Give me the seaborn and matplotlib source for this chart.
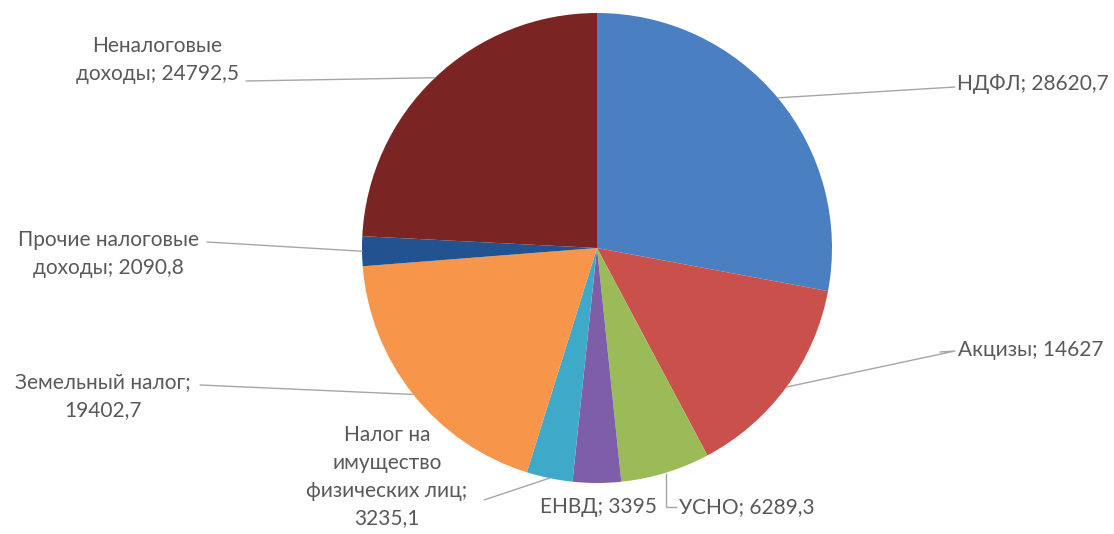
import numpy as np
import matplotlib
matplotlib.use("Agg")
import matplotlib.pyplot as plt
import seaborn as sns

# ---- data ----
categories = ["НДФЛ", "Акцизы", "УСНО", "ЕНВД", "Налог на имущество физических лиц",
              "Земельный налог", "Прочие налоговые доходы", "Неналоговые доходы"]
values = [28620.7, 14627.0, 6289.3, 3395.0, 3235.1, 19402.7, 2090.8, 24792.5]
label_texts = ["НДФЛ; 28620,7", "Акцизы; 14627", "УСНО; 6289,3", "ЕНВД; 3395",
               "Налог на\nимущество\nфизических лиц;\n3235,1",
               "Земельный налог;\n19402,7", "Прочие налоговые\nдоходы; 2090,8",
               "Неналоговые\nдоходы; 24792,5"]
colors = ["#4A7FC1", "#C9504B", "#9BBB59", "#7E5EA8", "#3FA9C9",
          "#F7954A", "#22528F", "#7A2523"]

sns.set_theme(style="white")
plt.rcParams["font.family"] = ["Lato", "DejaVu Sans"]

W, H = 1114, 534
fig = plt.figure(figsize=(W / 100, H / 100), dpi=100)
ax = fig.add_axes([0, 0, 1, 1])

cx, cy, R = 597, H - 248, 235
palette = sns.color_palette(colors)
wedges, _ = ax.pie(values, colors=palette, startangle=90, counterclock=False,
                   center=(cx, cy), radius=R, frame=True,
                   wedgeprops=dict(linewidth=0))
ax.set_xlim(0, W)
ax.set_ylim(0, H)
ax.set_aspect("equal")
ax.axis("off")

def Y(y):
    return H - y

# label layout: (text x, text y [px from top], ha, elbow points [px from top] or None)
layout = [
    (957, 84, "left", [(955, 87)]),
    (958, 350, "left", [(940, 352), (955, 351)]),
    (679, 507, "left", "usno"),
    (598, 507, "center", None),
    (387, 477, "center", [(484, 500)]),
    (103, 396, "center", [(200, 385)]),
    (108, 254, "center", [(207, 242)]),
    (157, 60, "center", [(246, 81)]),
]

txt_color = "#595959"
line_color = "#A6A6A6"
for w, txt, (tx, ty, ha, pts) in zip(wedges, label_texts, layout):
    mid = np.deg2rad((w.theta1 + w.theta2) / 2)
    ax_ = cx + R * np.cos(mid)
    ay_ = cy + R * np.sin(mid)
    if pts == "usno":
        xs = [ax_, ax_, tx - 2]
        ys = [ay_, Y(ty), Y(ty)]
        ax.plot(xs, ys, color=line_color, lw=1, solid_capstyle="butt")
    elif pts is not None:
        xs = [ax_] + [p[0] for p in pts][::-1]
        ys = [ay_] + [Y(p[1]) for p in pts][::-1]
        ax.plot(xs, ys, color=line_color, lw=1)
    ax.text(tx, Y(ty), txt, ha=ha, va="center", fontsize=15, color=txt_color,
            linespacing=1.48, multialignment="center")

fig.savefig("out.png", dpi=100, facecolor="white")
